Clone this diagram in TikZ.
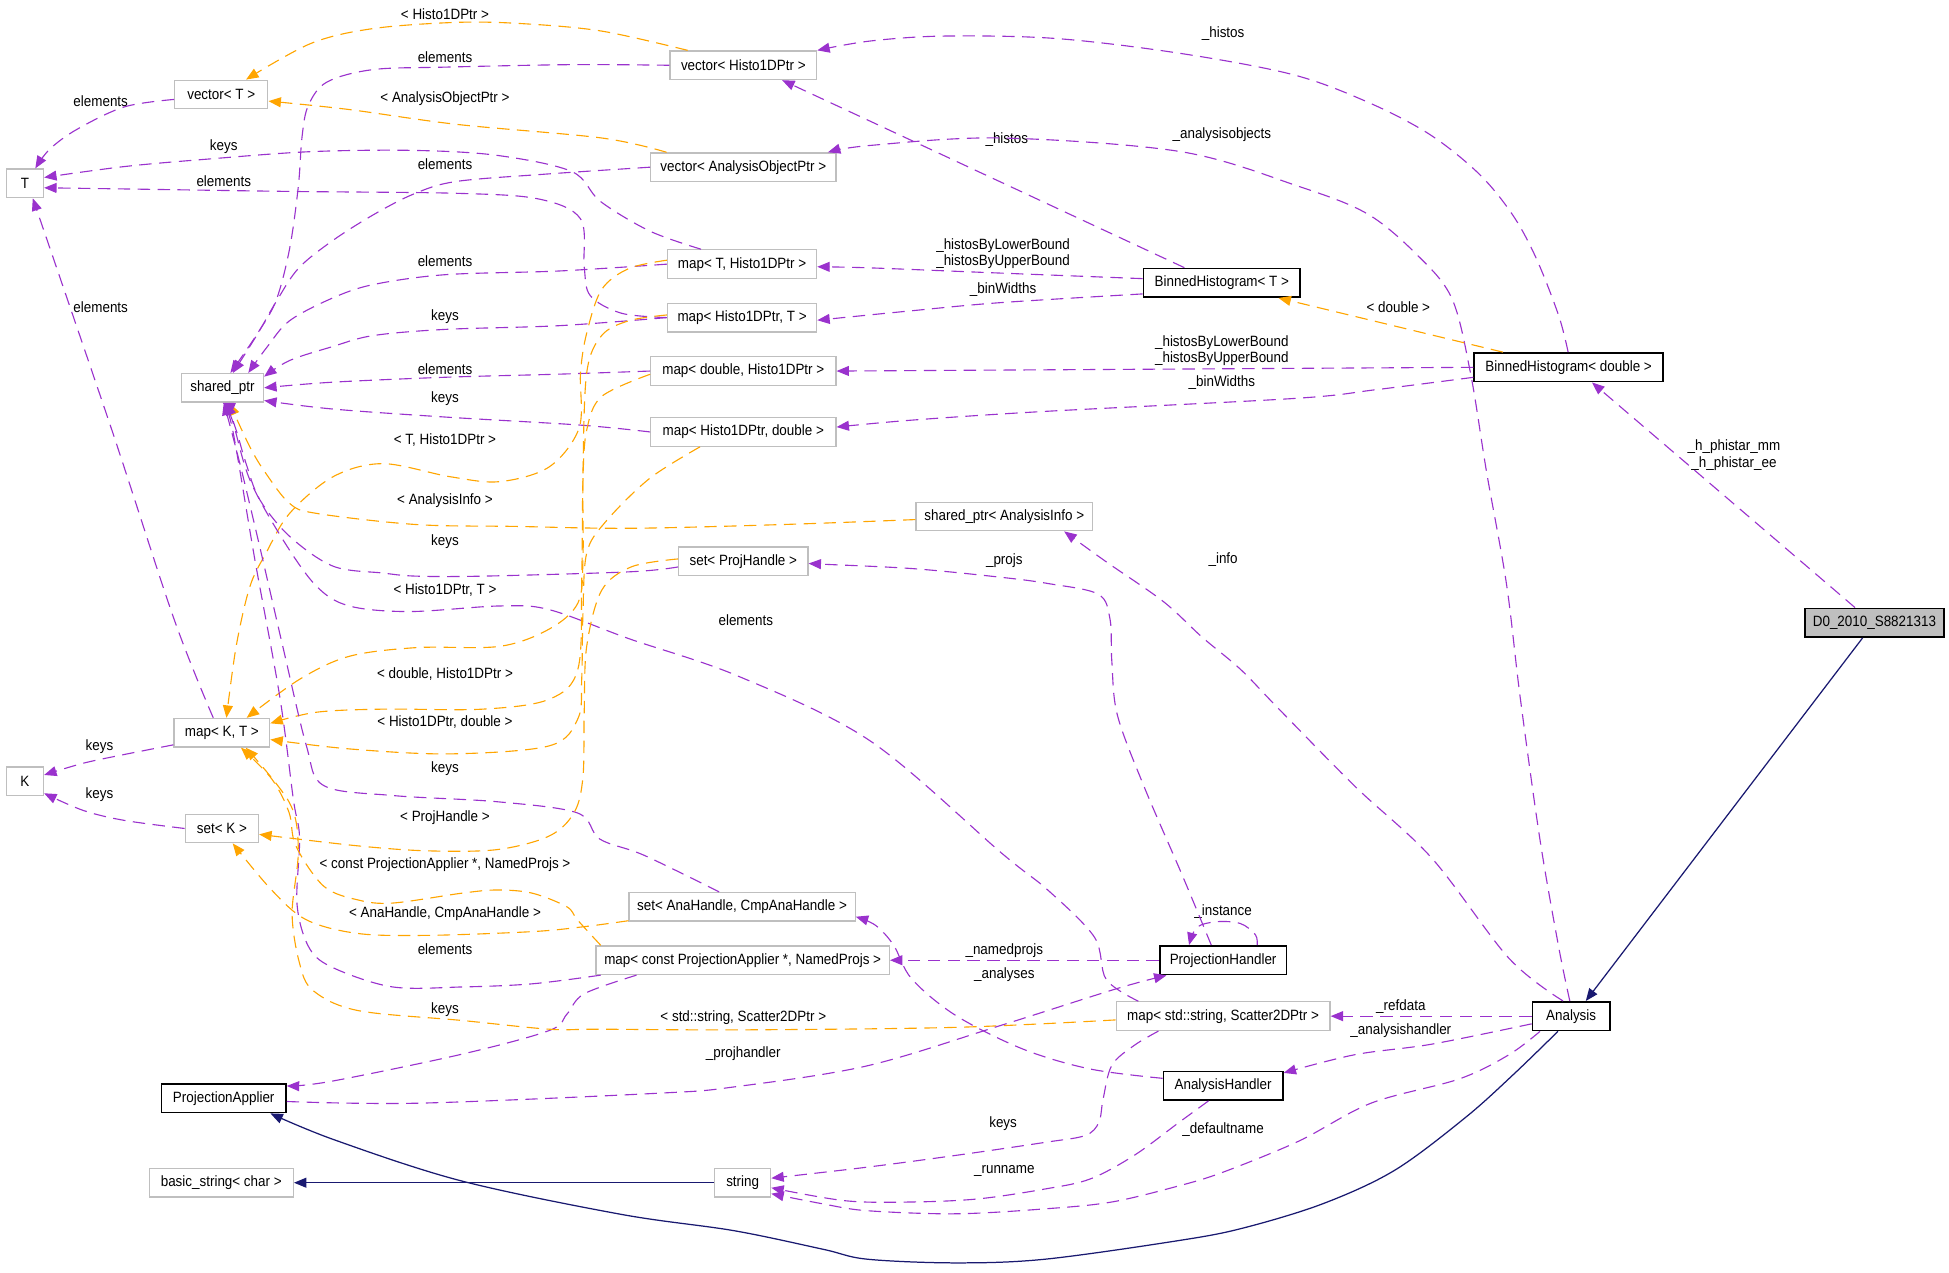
\documentclass[tikz,border=0pt]{standalone}
\usepackage{fontspec}
\setmainfont{Liberation Sans}[FakeStretch=0.9]
\usetikzlibrary{arrows.meta}
\definecolor{usecol}{HTML}{9A32CD}
\definecolor{tplcol}{HTML}{FFA500}
\definecolor{inhcol}{HTML}{191970}
\definecolor{graybd}{HTML}{BFBFBF}
\begin{document}
\begin{tikzpicture}[x=0.5pt,y=-0.5pt,
  every node/.style={font=\fontsize{6}{6.75}\selectfont},
  clsgray/.style={rectangle,draw=graybd,line width=0.5pt,fill=white,minimum height=11.5pt,inner sep=0pt},
  clsdoc/.style={clsgray,draw=black,line width=0.7pt},
  lbl/.style={inner sep=0pt,align=center},
  tip/.style={-{Triangle[length=5pt,width=4pt]}},
  usage/.style={draw=usecol,line width=0.45pt,dash pattern=on 5pt off 3pt,tip},
  tmpl/.style={draw=tplcol,line width=0.45pt,dash pattern=on 5pt off 3pt,tip},
  inher/.style={draw=inhcol,line width=0.5pt,tip},
  pl/.style={smooth,tension=0.55}]
\useasboundingbox (0,0) rectangle (1568,1024);
% ---- nodes
\node[clsgray,minimum width=15pt] (T) at (20,147.5) {T};
\node[clsgray,minimum width=15pt] (K) at (20,628.5) {K};
\node[clsgray,minimum width=37.5pt] (vecT) at (178,76) {vector< T >};
\node[clsgray,minimum width=33pt] (sptr) at (179,312) {shared\_ptr};
\node[clsgray,minimum width=38.5pt] (mapKT) at (178.5,589.5) {map< K, T >};
\node[clsgray,minimum width=29.5pt] (setK) at (178.5,666.5) {set< K >};
\node[clsdoc,minimum width=50pt] (PA) at (180,883.5) {ProjectionApplier};
\node[clsgray,minimum width=58pt] (bstr) at (178,951.5) {basic\_string< char >};
\node[clsgray,minimum width=59pt] (vecH) at (598,52.5) {vector< Histo1DPtr >};
\node[clsgray,minimum width=74.5pt] (vecAO) at (598,134.5) {vector< AnalysisObjectPtr >};
\node[clsgray,minimum width=60pt] (mapTH) at (597,212.5) {map< T, Histo1DPtr >};
\node[clsgray,minimum width=60pt] (mapHT) at (597,255.5) {map< Histo1DPtr, T >};
\node[clsgray,minimum width=74.5pt] (mapDH) at (598,298.5) {map< double, Histo1DPtr >};
\node[clsgray,minimum width=74.5pt] (mapHD) at (598,347.5) {map< Histo1DPtr, double >};
\node[clsgray,minimum width=52pt] (setPH) at (598,451.5) {set< ProjHandle >};
\node[clsgray,minimum width=91pt] (setAH) at (597,729.5) {set< AnaHandle, CmpAnaHandle >};
\node[clsgray,minimum width=118pt] (mapPA) at (597.5,772.5) {map< const ProjectionApplier *, NamedProjs >};
\node[clsgray,minimum width=22.5pt] (string) at (597.5,951.5) {string};
\node[clsgray,minimum width=71pt] (sptrAI) at (808,415.5) {shared\_ptr< AnalysisInfo >};
\node[clsdoc,minimum width=63pt] (BHT) at (983,227.5) {BinnedHistogram< T >};
\node[clsdoc,minimum width=51pt] (PH) at (984,772.5) {ProjectionHandler};
\node[clsgray,minimum width=86pt] (mapSS) at (984,817.5) {map< std::string, Scatter2DPtr >};
\node[clsdoc,minimum width=48pt] (AH) at (984,873.5) {AnalysisHandler};
\node[clsdoc,minimum width=76pt] (BHD) at (1262,295.5) {BinnedHistogram< double >};
\node[clsdoc,minimum width=31pt] (Analysis) at (1264,817.5) {Analysis};
\node[clsdoc,minimum width=56pt,fill=graybd] (D0) at (1508,501) {D0\_2010\_S8821313};
% ---- labels
\node[lbl] (L1) at (81,81) {elements};
\node[lbl] (L2) at (358,11) {< Histo1DPtr >};
\node[lbl] (L3) at (358,46) {elements};
\node[lbl] (L4) at (358,79) {< AnalysisObjectPtr >};
\node[lbl] (L5) at (180,118) {keys};
\node[lbl] (L6) at (358,132) {elements};
\node[lbl] (L7) at (180,146) {elements};
\node[lbl] (L8) at (358,210) {elements};
\node[lbl] (L9) at (81,247) {elements};
\node[lbl] (L10) at (358,255) {keys};
\node[lbl] (L11) at (358,297) {elements};
\node[lbl] (L12) at (358,321) {keys};
\node[lbl] (L13) at (358,354) {< T, Histo1DPtr >};
\node[lbl] (L14) at (358,403) {< AnalysisInfo >};
\node[lbl] (L15) at (358,436) {keys};
\node[lbl] (L16) at (358,475) {< Histo1DPtr, T >};
\node[lbl] (L17) at (600,499) {elements};
\node[lbl] (L18) at (358,542) {< double, Histo1DPtr >};
\node[lbl] (L19) at (358,581) {< Histo1DPtr, double >};
\node[lbl] (L20) at (80,601) {keys};
\node[lbl] (L21) at (358,618) {keys};
\node[lbl] (L22) at (80,639) {keys};
\node[lbl] (L23) at (358,658) {< ProjHandle >};
\node[lbl] (L24) at (358,696) {< const ProjectionApplier *, NamedProjs >};
\node[lbl] (L25) at (358,735) {< AnaHandle, CmpAnaHandle >};
\node[lbl] (L26) at (358,764) {elements};
\node[lbl] (L27) at (358,812) {keys};
\node[lbl] (L28) at (598,819) {< std::string, Scatter2DPtr >};
\node[lbl] (L29) at (598,848) {\_projhandler};
\node[lbl] (L30) at (808,765) {\_namedprojs};
\node[lbl] (L31) at (808,784) {\_analyses};
\node[lbl] (L32) at (984,733) {\_instance};
\node[lbl] (L33) at (808,451) {\_projs};
\node[lbl] (L34) at (984,450) {\_info};
\node[lbl] (L35) at (1395,366) {\_h\_phistar\_mm\\\_h\_phistar\_ee};
\node[lbl] (L36) at (984,27) {\_histos};
\node[lbl] (L37) at (810,112) {\_histos};
\node[lbl] (L38) at (983,108) {\_analysisobjects};
\node[lbl] (L39) at (807,204) {\_histosByLowerBound\\\_histosByUpperBound};
\node[lbl] (L40) at (807,233) {\_binWidths};
\node[lbl] (L41) at (1125,247) {< double >};
\node[lbl] (L42) at (983,282) {\_histosByLowerBound\\\_histosByUpperBound};
\node[lbl] (L43) at (983,308) {\_binWidths};
\node[lbl] (L44) at (1127,810) {\_refdata};
\node[lbl] (L45) at (1127,829) {\_analysishandler};
\node[lbl] (L46) at (807,904) {keys};
\node[lbl] (L47) at (808,942) {\_runname};
\node[lbl] (L48) at (984,909) {\_defaultname};
% ---- edges
\draw[usage] plot[pl] coordinates {(vecT.186) (100,86) (62,104) (40,120) (T.55)};
\draw[tmpl] plot[pl] coordinates {(vecH.165) (484,25) (420,19) (367,18) (300,23) (250,35) (vecT.31)};
\draw[tmpl] plot[pl] coordinates {(vecAO.169) (484,111) (367,100) (280,88) (vecT.-8)};
\draw[usage] plot[pl] coordinates {(vecH.west) (460,52) (358,54) (300,56) (263,66) (248,85) (243,110) (240,150) (233,200) (222,242) (206,270) (sptr.62)};
\draw[usage] plot[pl] coordinates {(vecAO.west) (440,140) (367,146) (333,156) (300,173) (267,194) (240,216) (222,243) (207,269) (sptr.55)};
\draw[usage] plot[pl] coordinates {(mapTH.160) (523,186) (483,162) (460,138) (400,125) (333,121) (250,122) (167,128) (100,134) (T.17)};
\draw[usage] plot[pl] coordinates {(mapHT.west) (500,252) (475,238) (470,215) (467,176) (433,160) (367,155.5) (233,154) (100,152) (T.-13)};
\draw[usage] plot[pl] coordinates {(mapTH.west) (450,218) (358,221) (300,229) (267,240) (233,258) (215,279) (sptr.30)};
\draw[usage] plot[pl] coordinates {(mapHT.west) (450,262) (358,265) (300,270) (267,279) (233,290) (sptr.15)};
\draw[usage] plot[pl] coordinates {(mapDH.west) (450,301) (358,303.5) (267,307.5) (sptr.east)};
\draw[usage] plot[pl] coordinates {(mapHD.west) (467,342) (358,335.5) (267,329) (sptr.-17)};
\draw[usage] plot[pl] coordinates {(mapKT.120) (140,498) (90,346) (T.-62)};
\draw[usage] plot[pl] coordinates {(mapKT.194) (100,607) (67,614) (K.18)};
\draw[usage] plot[pl] coordinates {(setK.west) (100,660) (67,652) (K.-32)};
\draw[tmpl] plot[pl] coordinates {(mapTH.177) (506,216) (484,233) (472,268) (467,300) (466,344) (442,375.5) (402,387.5) (362,383.5) (308,373) (268,383.5) (233,413) (214,445) (201,472) (190,520) (mapKT.73)};
\draw[tmpl] plot[pl] coordinates {(mapHT.178) (506,258) (484,270) (472,300) (469,380) (469,450) (465,485) (442,506) (402,520) (335,521) (281,528) (241,546.5) (mapKT.31)};
\draw[tmpl] plot[pl] coordinates {(mapDH.182) (484,319) (472,346) (469,386) (468,466) (465,538) (442,562.5) (388.5,570.5) (308,570.5) (254.5,573) (mapKT.11)};
\draw[tmpl] plot[pl] coordinates {(mapHD.199) (522.5,385) (487,420) (472,445) (469,493) (468,546) (465,578) (442,600) (362,606.5) (281,602.5) (mapKT.-8)};
\draw[tmpl] plot[pl] coordinates {(sptrAI.182) (629,422) (507,425) (415,423.5) (335,422) (254.5,413) (233,405) (214,381) (201,359.5) (sptr.-65)};
\draw[usage] plot[pl] coordinates {(setPH.185) (507,460) (388.5,463.5) (335,463.5) (308,461) (268,455.5) (233,431.5) (209,402) (198,373) (190,346) (sptr.-75)};
\draw[usage] plot[pl] coordinates {(mapSS.170) (890,788) (880.5,754) (843.5,716.5) (806,686.5) (700,596) (594,544) (506.5,514) (442,490.5) (402,487.5) (329.5,492) (281,487.5) (254.5,471.5) (227.5,434) (201,386) (187.5,340) (sptr.-80)};
\draw[usage] plot[pl] coordinates {(setAH.147) (518,688) (482.5,675) (464.5,654) (400,645) (316,640) (260.5,632) (246.5,600) (227.5,520) (209,440) (193,373) (sptr.-85)};
\draw[usage] plot[pl] coordinates {(mapPA.186) (428,791.5) (372,794) (316,794) (269,779) (249,763) (239,728) (241,674) (236,643) (225,560) (205,450) (187,345) (sptr.-90)};
\draw[usage] plot[pl] coordinates {(mapPA.188) (470,799.5) (456,816) (442,829) (372,848) (266,870) (PA.11)};
\draw[tmpl] plot[pl] coordinates {(setPH.178) (508,456) (484,475) (472,520) (470,573) (469,625) (462,653.5) (442,672.5) (400,683.5) (344,684.5) (288,680.5) (setK.-9)};
\draw[tmpl] plot[pl] coordinates {(mapPA.174) (464.5,740) (456,729.5) (428,718.5) (400,716) (372,718.5) (316,726.5) (288,724) (260.5,713) (238,680.5) (232.5,653.5) (218.5,626.5) (mapKT.-38)};
\draw[tmpl] plot[pl] coordinates {(setAH.187) (470,745.5) (428,749.5) (344,752.5) (288,751) (246.5,740) (218.5,716) (setK.-54)};
\draw[tmpl] plot[pl] coordinates {(mapSS.182) (769,826.5) (600,828.5) (482.5,828) (442,828) (372,821) (288,813) (252,797) (241,775) (235,735) (240,684) (233,646) (mapKT.-32)};
\draw[usage] plot[pl] coordinates {(PA.-3) (337,887.5) (529.5,879.5) (590,874.5) (697.5,857.5) (805,825) (898,795.5) (PH.195)};
\draw[usage] (PH.west) -- (mapPA.east);
\draw[usage] plot[pl] coordinates {(AH.173) (877,860) (823,844) (769,817) (733.5,787.5) (719,760.5) (704.5,744.5) (setAH.-5)};
\draw[usage] plot[pl] coordinates {(PH.24) (1010,752) (998,743) (979,741.5) (963,746) (PH.156)};
\draw[usage] plot[pl] coordinates {(PH.128) (951.5,705) (920.5,633) (899,575.5) (894.5,532.5) (893,498) (883.5,478) (843.5,469.5) (806,464.5) (735,457.5) (664,454) (setPH.-2)};
\draw[usage] plot[pl] coordinates {(Analysis.118) (1214,771) (1152,690.5) (1090.5,633) (1028.5,570) (998,538.5) (967,512.5) (936,484) (890,452) (sptrAI.-14)};
\draw[usage] (D0.142) -- (BHD.-33);
\draw[inher] (D0.-128) -- (Analysis.46);
\draw[usage] plot[pl] coordinates {(BHD.92) (1254,254) (1236,208) (1217,173) (1190,140) (1150,108) (1100,82) (1040,60) (950,43) (850,31) (760,29) (700,33) (vecH.north east)};
\draw[usage] (BHT.158) -- (vecH.-21);
\draw[usage] plot[pl] coordinates {(Analysis.95) (1254,762) (1239,676) (1223,561) (1212,470) (1196,380) (1183,300) (1168,240) (1140,205) (1100,172) (1045,150) (950,122) (805,111) (700,117) (vecAO.10)};
\draw[usage] plot[pl] coordinates {(BHT.177) (800,219.5) (700,215.5) (mapTH.-2)};
\draw[usage] plot[pl] coordinates {(BHT.188) (804.5,243.5) (733.5,250) (mapHT.-2)};
\draw[usage] (BHD.west) -- (mapDH.east);
\draw[usage] plot[pl] coordinates {(BHD.186) (1107,313.5) (1042,320.5) (840,331) (733.5,338) (mapHD.3)};
\draw[tmpl] (BHD.167) -- (BHT.-15);
\draw[usage] (Analysis.west) -- (mapSS.east);
\draw[usage] plot[pl] coordinates {(Analysis.191) (1152,840) (1090,848.5) (AH.12)};
\draw[usage] plot[pl] coordinates {(mapSS.193) (912.5,841) (894.5,857) (887.5,884) (884,903) (873,913.5) (841,919) (769,929.5) (697.5,939) (string.9)};
\draw[usage] plot[pl] coordinates {(AH.226) (948.5,903) (912.5,929.5) (877,948.5) (841,956.5) (787,964.5) (733.5,967) (680,966) (string.-10)};
\draw[usage] plot[pl] coordinates {(Analysis.206) (1214,848.5) (1174,868) (1103,887.5) (1045,918) (984,943) (948.5,954) (894.5,967) (841,972.5) (769,976.5) (697.5,974) (662,968.5) (string.-21)};
\draw[inher] plot[pl] coordinates {(Analysis.229) (1218,864) (1179,899) (1122,941.5) (1064,968.5) (1000,988) (948.5,998) (841,1013) (769,1016) (697.5,1013) (662,1005) (590,990) (500,977) (371,950) (269,917) (PA.-18)};
\draw[inher] (string.west) -- (bstr.east);
\end{tikzpicture}
\end{document}
